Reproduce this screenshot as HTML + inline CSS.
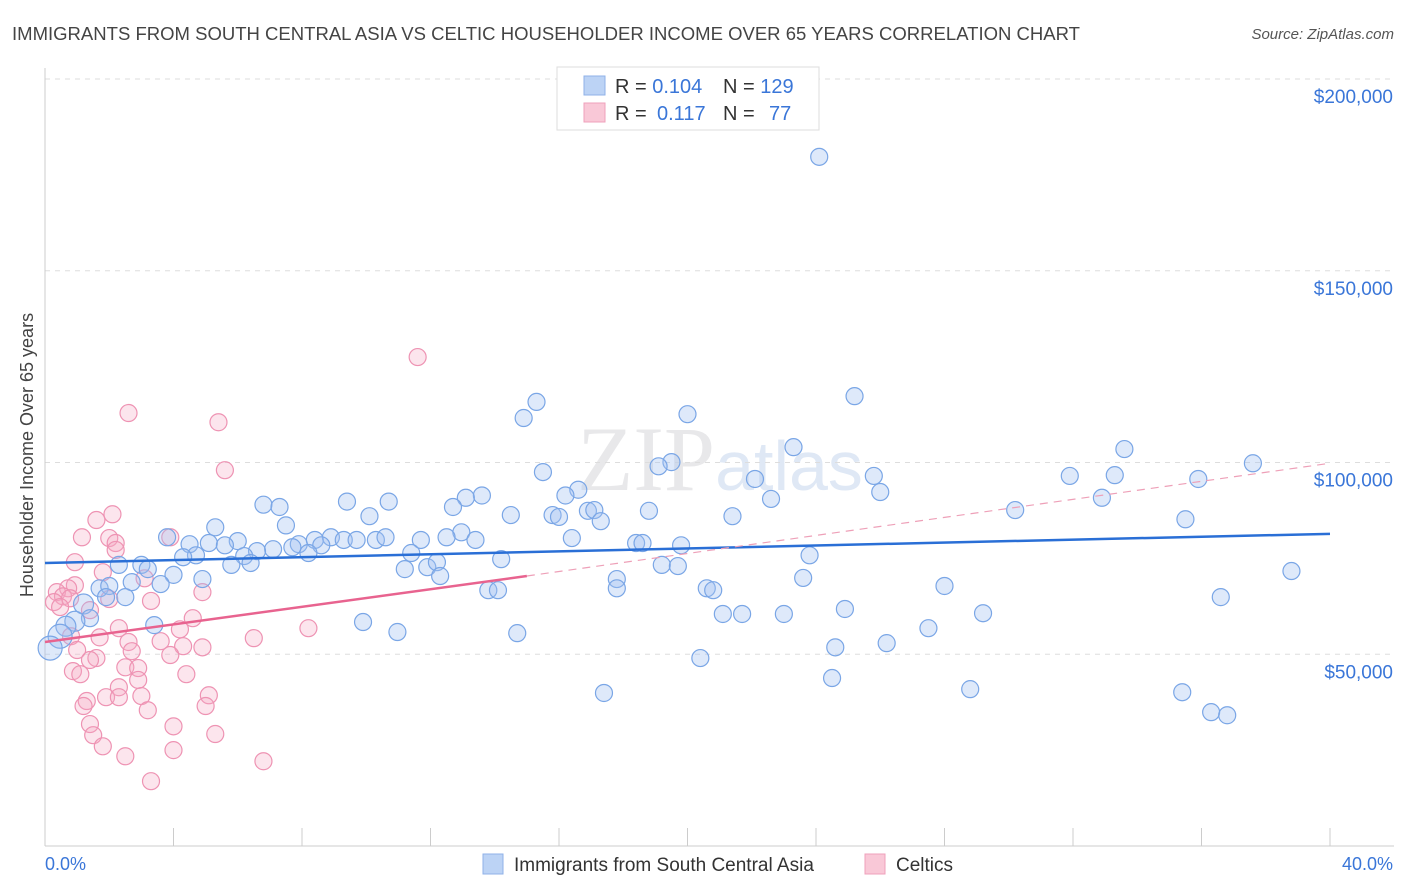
<!DOCTYPE html>
<html><head><meta charset="utf-8"><style>
body{margin:0;background:#fff;font-family:"Liberation Sans",sans-serif;}
svg{display:block}
</style></head><body>
<svg id="chart" width="1406" height="892">
<text x="12" y="40" font-size="18" fill="#444" textLength="1068" lengthAdjust="spacingAndGlyphs">IMMIGRANTS FROM SOUTH CENTRAL ASIA VS CELTIC HOUSEHOLDER INCOME OVER 65 YEARS CORRELATION CHART</text>
<text x="1394" y="39" font-size="15" fill="#555" font-style="italic" text-anchor="end">Source: ZipAtlas.com</text>
<text x="720" y="490" font-size="92" fill="#e8e8ea" text-anchor="middle" font-family="Liberation Serif">ZIP<tspan font-family="Liberation Sans" font-size="70" fill="#dfe8f5">atlas</tspan></text>
<g id="grid"></g><g id="axes"></g><g id="pink"></g><g id="blue"></g><g id="trends"></g>
<text x="33" y="455" font-size="18" fill="#444" text-anchor="middle" transform="rotate(-90 33 455)">Householder Income Over 65 years</text>
<text x="45" y="870" font-size="18" fill="#3a76d8">0.0%</text>
<text x="1393" y="870" font-size="18" fill="#3a76d8" text-anchor="end">40.0%</text>
<g>
<rect x="557" y="67" width="262" height="63" fill="#fff" stroke="#ddd"/>
<rect x="584" y="76" width="21" height="19" fill="#bcd3f5" stroke="#8fb2e8"/>
<rect x="584" y="103" width="21" height="19" fill="#f9c8d7" stroke="#efa0bb"/>
<text x="615" y="93" font-size="20" fill="#333">R = <tspan fill="#3a76d8">0.104</tspan><tspan x="723">N = </tspan><tspan fill="#3a76d8">129</tspan></text>
<text x="615" y="120" font-size="20" fill="#333">R = <tspan x="657" fill="#3a76d8">0.117</tspan><tspan x="723">N = </tspan><tspan x="769" fill="#3a76d8">77</tspan></text>
</g>
<g>
<rect x="483" y="854" width="20" height="20" fill="#bcd3f5" stroke="#8fb2e8"/>
<text x="514" y="871" font-size="19" fill="#333">Immigrants from South Central Asia</text>
<rect x="865" y="854" width="20" height="20" fill="#f9c8d7" stroke="#efa0bb"/>
<text x="896" y="871" font-size="19" fill="#333">Celtics</text>
</g>
</svg>
<script>
const yTicks=[50000,100000,150000,200000];
const yTickLabels=["$50,000","$100,000","$150,000","$200,000"];
const xTicks=[0,4,8,12,16,20,24,28,32,36,40];
const blueX=[24.1,25.2,15.3,14.9,20.0,23.3,33.6,37.6,19.5,19.1,15.5,25.8,31.9,33.3,35.9,22.1,26.0,16.6,16.2,13.6,13.1,9.4,10.7,6.8,7.3,12.7,16.9,18.8,22.6,32.9,30.2,17.1,14.5,10.1,15.8,16.0,17.3,21.4,35.5,5.3,7.5,12.96,3.8,4.5,5.1,6.0,5.6,7.9,8.4,8.9,9.3,9.7,10.3,10.6,11.7,12.5,13.4,16.4,18.4,18.6,19.8,7.7,8.6,7.1,6.6,6.2,4.7,4.3,8.2,11.4,6.4,5.8,3.0,2.3,3.2,11.2,11.9,12.2,14.2,23.8,19.2,19.7,12.3,4.0,4.9,17.8,38.8,23.6,3.6,2.7,1.7,2.0,17.8,13.8,14.1,20.6,20.8,28.0,1.9,2.5,36.6,1.2,24.9,29.2,21.1,21.7,23.0,1.4,0.93,9.9,3.4,0.65,27.5,10.97,14.7,0.47,26.2,24.6,0.16,20.4,24.5,17.4,28.8,35.4,36.3,36.8];
const blueY=[179.7,117.3,115.8,111.6,112.6,104.0,103.5,99.8,100.1,99.0,97.5,96.5,96.5,96.7,95.7,95.7,92.3,92.9,91.4,91.4,90.8,89.8,89.8,89.0,88.4,88.4,87.4,87.4,90.5,90.8,87.6,87.6,86.3,86.0,86.3,85.8,84.7,86.0,85.2,83.1,83.6,81.8,80.5,78.7,79.0,79.5,78.4,78.7,79.8,80.5,79.8,79.8,79.8,80.5,79.8,80.5,79.8,80.3,79.0,79.0,78.4,77.9,78.4,77.4,76.9,75.6,75.8,75.3,76.4,76.4,73.8,73.3,73.3,73.3,72.2,72.2,72.7,74.0,74.8,75.8,73.3,73.0,70.4,70.7,69.6,69.6,71.7,69.9,68.3,68.8,67.2,67.8,67.2,66.7,66.7,67.2,66.7,67.8,64.9,64.9,64.9,63.1,61.8,60.7,60.5,60.5,60.5,59.4,58.6,58.4,57.6,57.3,56.8,55.8,55.5,54.7,52.9,51.8,51.6,49.0,43.8,39.9,40.9,40.1,34.9,34.1];
const pinkX=[11.6,2.6,5.4,5.6,1.6,2.1,1.15,3.9,2.0,2.2,2.2,0.93,1.8,3.1,0.93,0.72,0.37,0.56,0.78,0.28,0.47,1.4,2.0,4.9,3.3,4.6,2.3,4.2,8.2,6.5,0.81,1.7,2.6,3.6,4.3,4.9,2.7,1.0,1.6,1.4,3.9,2.5,2.9,0.87,1.1,4.4,2.9,2.3,5.1,3.0,1.9,2.3,1.3,1.2,3.2,5.0,1.4,4.0,5.3,1.5,1.8,4.0,2.5,6.8,3.3];
const pinkY=[127.5,112.9,110.5,98.0,85.0,86.5,80.5,80.5,80.3,79.0,77.2,74.0,71.4,69.8,68.0,67.2,66.2,65.1,64.6,63.6,62.3,61.5,64.4,66.2,63.9,59.4,56.8,56.5,56.8,54.2,54.7,54.4,53.2,53.4,52.1,51.8,50.8,51.1,49.0,48.5,49.8,46.6,46.4,45.6,44.8,44.8,43.3,41.4,39.3,39.1,38.8,38.8,37.8,36.5,35.4,36.5,31.8,31.2,29.2,28.9,26.0,25.0,23.4,22.1,16.9];
const blueTrend=[[0,73.8],[40,81.4]];
const pinkTrend=[[0,53.2],[15,70.4]];
const pinkTrendExt=[[15,70.4],[40,99.8]];

const NS="http://www.w3.org/2000/svg";
const xs=v=>45+v*(1330-45)/40;
const ys=v=>846-v*(846-79)/200000;
function mk(parent,tag,attrs){const e=document.createElementNS(NS,tag);for(const k in attrs)e.setAttribute(k,attrs[k]);document.getElementById(parent).appendChild(e);return e;}
yTicks.forEach((t,i)=>{
  const l=mk('grid','line',{x1:45,x2:1394,y1:ys(t),y2:ys(t),stroke:'#ddd','stroke-dasharray':'5,5'});
  
  
  const tx=mk('grid','text',{x:1393,y:ys(t)+24,'font-size':19,fill:'#3a76d8','text-anchor':'end'});
  tx.textContent=yTickLabels[i];
  
  
});
const ya=mk('axes','line',{x1:45,x2:45,y1:68,y2:846,stroke:'#ccc'});


const xa=mk('axes','line',{x1:45,x2:1394,y1:846,y2:846,stroke:'#ccc'});


xTicks.forEach(t=>{const l=mk('axes','line',{x1:xs(t),x2:xs(t),y1:828,y2:846,stroke:'#ccc'});
  
  });
pinkX.forEach((x,i)=>{const c=mk('pink','circle',{cx:xs(x),cy:ys(pinkY[i]*1000),r:8.5,fill:'rgba(245,170,195,0.3)',stroke:'#ee93b3','stroke-width':1.2});
  
  });
blueX.forEach((x,i)=>{const big=x<0.5?12:(x<1.3?10:8.5);const c=mk('blue','circle',{cx:xs(x),cy:ys(blueY[i]*1000),r:big,fill:'rgba(160,192,240,0.35)',stroke:'#7aa6e6','stroke-width':1.2});
  
  });
const bt=mk('trends','line',{x1:xs(blueTrend[0][0]),y1:ys(blueTrend[0][1]*1000),x2:xs(blueTrend[1][0]),y2:ys(blueTrend[1][1]*1000),stroke:'#2a6fd6','stroke-width':2.5});


const pt=mk('trends','line',{x1:xs(pinkTrend[0][0]),y1:ys(pinkTrend[0][1]*1000),x2:xs(pinkTrend[1][0]),y2:ys(pinkTrend[1][1]*1000),stroke:'#e8638f','stroke-width':2.5});


const pe=mk('trends','line',{x1:xs(pinkTrendExt[0][0]),y1:ys(pinkTrendExt[0][1]*1000),x2:xs(pinkTrendExt[1][0]),y2:ys(pinkTrendExt[1][1]*1000),stroke:'#eea0b8','stroke-width':1.2,'stroke-dasharray':'8,6'});


</script>
</body></html>
